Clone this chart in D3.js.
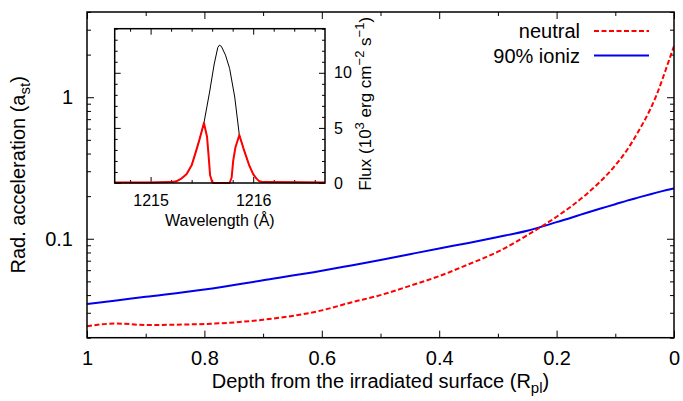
<!DOCTYPE html>
<html>
<head>
<meta charset="utf-8">
<script src="https://cdn.jsdelivr.net/npm/d3@7"></script>
<style>
  body { margin: 0; background: #fff; }
  text { font-family: "Liberation Sans", Arial, sans-serif; fill: #000; }
</style>
</head>
<body>
<svg id="chart" width="683" height="401"></svg>
<script>
// main panel data: depth from irradiated surface (R_pl) and radiative acceleration (a_st)
const depth   = [1, 0.95, 0.9, 0.8, 0.7, 0.6, 0.55, 0.5, 0.45, 0.4, 0.35, 0.3, 0.25, 0.2, 0.15, 0.125, 0.1, 0.08, 0.06, 0.04, 0.03, 0.02, 0.01, 0];
const neutral = [0.0241, 0.0252, 0.0246, 0.0250, 0.0268, 0.0312, 0.0355, 0.040, 0.0465, 0.0545, 0.066, 0.081, 0.106, 0.143, 0.205, 0.255, 0.33, 0.424, 0.58, 0.83, 1.03, 1.33, 1.75, 2.3];
const ioniz   = [0.0346, 0.0367, 0.0389, 0.0438, 0.0509, 0.0594, 0.0648, 0.0708, 0.0778, 0.0854, 0.0935, 0.103, 0.114, 0.131, 0.152, 0.1635, 0.1755, 0.186, 0.196, 0.2065, 0.2118, 0.217, 0.222, 0.227];

const xTicks = [1, 0.8, 0.6, 0.4, 0.2, 0];
const xTickLabels = ["1", "0.8", "0.6", "0.4", "0.2", "0"];
const yTicks = [0.1, 1];
const yTickLabels = ["0.1", "1"];

const seriesNames = ["neutral", "90% ioniz"];

// inset data: Lyman-alpha line profile
const waveIntr = [1214.65, 1215.0, 1215.2, 1215.25, 1215.3, 1215.35, 1215.4, 1215.446, 1215.478, 1215.52, 1215.575, 1215.62, 1215.655, 1215.67, 1215.69, 1215.73, 1215.77, 1215.82, 1215.865, 1215.91, 1215.96, 1216.0, 1216.03, 1216.06, 1216.1, 1216.7];
const fluxIntr = [0.05, 0.05, 0.08, 0.15, 0.4, 0.8, 1.6, 2.98, 4.0, 5.45, 8.25, 10.8, 12.3, 12.5, 12.4, 11.6, 10.4, 7.8, 4.35, 3.0, 1.63, 0.8, 0.42, 0.15, 0.08, 0.05];
const waveObs  = [1214.65, 1215.0, 1215.2, 1215.25, 1215.3, 1215.35, 1215.4, 1215.446, 1215.478, 1215.52, 1215.55, 1215.565, 1215.58, 1215.6, 1215.61, 1215.77, 1215.79, 1215.805, 1215.826, 1215.865, 1215.91, 1215.96, 1216.0, 1216.03, 1216.06, 1216.1, 1216.7];
const fluxObs  = [0.05, 0.05, 0.08, 0.15, 0.4, 0.8, 1.6, 2.98, 4.0, 5.45, 4.2, 2.5, 0.7, 0.1, 0, 0, 0.5, 2.0, 3.2, 4.35, 3.0, 1.63, 0.8, 0.42, 0.15, 0.08, 0.05];

const insetXTicks = [1215, 1216];
const insetXTickLabels = ["1215", "1216"];
const insetYTicks = [0, 5, 10];
const insetYTickLabels = ["0", "5", "10"];

const svg = d3.select('#chart');

// main plot frame
const plot = { left: 87, right: 674, top: 12, bottom: 337.7 };

const x = d3.scaleLinear().domain([1, 0]).range([plot.left, plot.right]);
const y = d3.scaleLog().domain([0.02, 4]).range([plot.bottom, plot.top]);

const minorX = d3.range(0, 11).map(i => i / 10).filter(v => !xTicks.some(t => Math.abs(t - v) < 1e-9));
const minorY = [];
[0.01, 0.1, 1].forEach(dec => {
    for (let k = 2; k <= 9; k++) {
        const v = k * dec;
        if (v >= 0.02 && v <= 4.0001) minorY.push(v);
    }
});

function styleAxis(sel) {
    sel.select('.domain').remove();
    sel.selectAll('line').attr('stroke', '#000').attr('stroke-width', 1);
}

// major ticks with labels
svg.append('g')
    .attr('transform', `translate(0, ${plot.bottom})`)
    .call(d3.axisBottom(x).tickValues(xTicks).tickFormat((d, i) => xTickLabels[i]).tickSizeInner(-7).tickSizeOuter(0).tickPadding(13))
    .call(styleAxis)
    .selectAll('text').style('font-size', '20px');

svg.append('g')
    .attr('transform', `translate(0, ${plot.bottom})`)
    .call(d3.axisBottom(x).tickValues(minorX).tickFormat('').tickSizeInner(-4).tickSizeOuter(0))
    .call(styleAxis);

svg.append('g')
    .attr('transform', `translate(0, ${plot.top})`)
    .call(d3.axisTop(x).tickValues(xTicks).tickFormat('').tickSizeInner(-7).tickSizeOuter(0))
    .call(styleAxis);

svg.append('g')
    .attr('transform', `translate(0, ${plot.top})`)
    .call(d3.axisTop(x).tickValues(minorX).tickFormat('').tickSizeInner(-4).tickSizeOuter(0))
    .call(styleAxis);

svg.append('g')
    .attr('transform', `translate(${plot.left}, 0)`)
    .call(d3.axisLeft(y).tickValues(yTicks).tickFormat((d, i) => yTickLabels[i]).tickSizeInner(-7).tickSizeOuter(0).tickPadding(14))
    .call(styleAxis)
    .selectAll('text').style('font-size', '20px');

svg.append('g')
    .attr('transform', `translate(${plot.left}, 0)`)
    .call(d3.axisLeft(y).tickValues(minorY).tickFormat('').tickSizeInner(-4).tickSizeOuter(0))
    .call(styleAxis);

svg.append('g')
    .attr('transform', `translate(${plot.right}, 0)`)
    .call(d3.axisRight(y).tickValues(yTicks).tickFormat('').tickSizeInner(-7).tickSizeOuter(0))
    .call(styleAxis);

svg.append('g')
    .attr('transform', `translate(${plot.right}, 0)`)
    .call(d3.axisRight(y).tickValues(minorY).tickFormat('').tickSizeInner(-4).tickSizeOuter(0))
    .call(styleAxis);

// clip for curves
svg.append('clipPath').attr('id', 'clipMain')
    .append('rect')
    .attr('x', plot.left).attr('y', plot.top)
    .attr('width', plot.right - plot.left).attr('height', plot.bottom - plot.top);

const line = d3.line()
    .x(d => x(d[0]))
    .y(d => y(d[1]))
    .curve(d3.curveMonotoneX);

svg.append('path')
    .datum(depth.map((d, i) => [d, ioniz[i]]))
    .attr('clip-path', 'url(#clipMain)')
    .attr('fill', 'none')
    .attr('stroke', '#0000ee')
    .attr('stroke-width', 2)
    .attr('d', line);

svg.append('path')
    .datum(depth.map((d, i) => [d, neutral[i]]))
    .attr('clip-path', 'url(#clipMain)')
    .attr('fill', 'none')
    .attr('stroke', '#ff0000')
    .attr('stroke-width', 2)
    .attr('stroke-dasharray', '5,2.5')
    .attr('d', line);

// frame
svg.append('rect')
    .attr('x', plot.left).attr('y', plot.top)
    .attr('width', plot.right - plot.left).attr('height', plot.bottom - plot.top)
    .attr('fill', 'none').attr('stroke', '#000').attr('stroke-width', 1.5);

// axis titles
svg.append('text')
    .attr('x', (plot.left + plot.right) / 2).attr('y', 387.5)
    .attr('text-anchor', 'middle').style('font-size', '20px')
    .call(t => {
        t.append('tspan').text('Depth from the irradiated surface (R');
        t.append('tspan').attr('dy', 5).style('font-size', '15px').text('pl');
        t.append('tspan').attr('dy', -5).text(')');
    });

svg.append('text')
    .attr('transform', `translate(25, ${(plot.top + plot.bottom) / 2}) rotate(-90)`)
    .attr('text-anchor', 'middle').style('font-size', '20px')
    .call(t => {
        t.append('tspan').text('Rad. acceleration (a');
        t.append('tspan').attr('dy', 5).style('font-size', '15px').text('st');
        t.append('tspan').attr('dy', -5).text(')');
    });

// legend
const legendColors = ['#ff0000', '#0000ee'];
const legendDash = ['5,2.5', null];
seriesNames.forEach((name, i) => {
    const ly = 31 + i * 24.5;
    svg.append('text')
        .attr('x', 580).attr('y', ly).attr('dy', '0.35em')
        .attr('text-anchor', 'end').style('font-size', '20px')
        .text(name);
    svg.append('line')
        .attr('x1', 594).attr('x2', 649).attr('y1', ly).attr('y2', ly)
        .attr('stroke', legendColors[i]).attr('stroke-width', 2)
        .attr('stroke-dasharray', legendDash[i]);
});

// inset
const inset = { left: 114.7, right: 325, top: 28.7, bottom: 183 };
const xi = d3.scaleLinear().domain([1214.65, 1216.7]).range([inset.left, inset.right]);
const yi = d3.scaleLinear().domain([0, 14]).range([inset.bottom, inset.top]);

svg.append('rect')
    .attr('x', inset.left).attr('y', inset.top)
    .attr('width', inset.right - inset.left).attr('height', inset.bottom - inset.top)
    .attr('fill', '#fff');

const insetMinorX = d3.range(1214.8, 1216.71, 0.2).filter(v => !insetXTicks.some(t => Math.abs(t - v) < 1e-6));
const insetMinorY = d3.range(0, 15).filter(v => v % 5 !== 0);

svg.append('g')
    .attr('transform', `translate(0, ${inset.bottom})`)
    .call(d3.axisBottom(xi).tickValues(insetXTicks).tickFormat((d, i) => insetXTickLabels[i]).tickSizeInner(-6).tickSizeOuter(0).tickPadding(12))
    .call(styleAxis)
    .selectAll('text').style('font-size', '16px');

svg.append('g')
    .attr('transform', `translate(0, ${inset.bottom})`)
    .call(d3.axisBottom(xi).tickValues(insetMinorX).tickFormat('').tickSizeInner(-3).tickSizeOuter(0))
    .call(styleAxis);

svg.append('g')
    .attr('transform', `translate(0, ${inset.top})`)
    .call(d3.axisTop(xi).tickValues(insetXTicks).tickFormat('').tickSizeInner(-6).tickSizeOuter(0))
    .call(styleAxis);

svg.append('g')
    .attr('transform', `translate(0, ${inset.top})`)
    .call(d3.axisTop(xi).tickValues(insetMinorX).tickFormat('').tickSizeInner(-3).tickSizeOuter(0))
    .call(styleAxis);

svg.append('g')
    .attr('transform', `translate(${inset.right}, 0)`)
    .call(d3.axisRight(yi).tickValues(insetYTicks).tickFormat((d, i) => insetYTickLabels[i]).tickSizeInner(-6).tickSizeOuter(0).tickPadding(9))
    .call(styleAxis)
    .selectAll('text').style('font-size', '16px');

svg.append('g')
    .attr('transform', `translate(${inset.right}, 0)`)
    .call(d3.axisRight(yi).tickValues(insetMinorY).tickFormat('').tickSizeInner(-3).tickSizeOuter(0))
    .call(styleAxis);

svg.append('g')
    .attr('transform', `translate(${inset.left}, 0)`)
    .call(d3.axisLeft(yi).tickValues(insetYTicks).tickFormat('').tickSizeInner(-6).tickSizeOuter(0))
    .call(styleAxis);

svg.append('g')
    .attr('transform', `translate(${inset.left}, 0)`)
    .call(d3.axisLeft(yi).tickValues(insetMinorY).tickFormat('').tickSizeInner(-3).tickSizeOuter(0))
    .call(styleAxis);

const lineInset = d3.line().x(d => xi(d[0])).y(d => yi(d[1]));

svg.append('path')
    .datum(waveIntr.map((w, i) => [w, fluxIntr[i]]))
    .attr('fill', 'none').attr('stroke', '#000').attr('stroke-width', 1)
    .attr('d', lineInset);

svg.append('path')
    .datum(waveObs.map((w, i) => [w, fluxObs[i]]))
    .attr('fill', 'none').attr('stroke', '#ff0000').attr('stroke-width', 2)
    .attr('stroke-linejoin', 'round')
    .attr('d', lineInset);

svg.append('rect')
    .attr('x', inset.left).attr('y', inset.top)
    .attr('width', inset.right - inset.left).attr('height', inset.bottom - inset.top)
    .attr('fill', 'none').attr('stroke', '#000').attr('stroke-width', 1.5);

svg.append('text')
    .attr('x', (inset.left + inset.right) / 2).attr('y', 226)
    .attr('text-anchor', 'middle').style('font-size', '16px')
    .text('Wavelength (Å)');

svg.append('text')
    .attr('transform', `translate(371, ${(inset.top + inset.bottom) / 2 - 2}) rotate(-90)`)
    .attr('text-anchor', 'middle').style('font-size', '17px')
    .call(t => {
        t.append('tspan').text('Flux (10');
        t.append('tspan').attr('dy', -7).style('font-size', '13px').text('3');
        t.append('tspan').attr('dy', 7).text(' erg cm');
        t.append('tspan').attr('dy', -7).style('font-size', '13px').text('\u22122');
        t.append('tspan').attr('dy', 7).text(' s');
        t.append('tspan').attr('dy', -7).style('font-size', '13px').text('\u22121');
        t.append('tspan').attr('dy', 7).text(')');
    });
</script>
</body>
</html>
